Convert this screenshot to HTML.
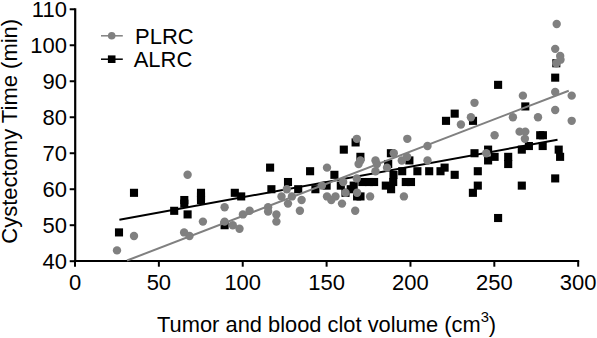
<!DOCTYPE html>
<html><head><meta charset="utf-8"><title>Cystectomy time vs tumor and blood clot volume</title>
<style>
html,body{margin:0;padding:0;background:#fff;}
body{width:597px;height:338px;overflow:hidden;}
svg{display:block;}
text{font-family:"Liberation Sans",Arial,Helvetica,sans-serif;fill:#000;}
</style></head><body>
<svg width="597" height="338" viewBox="0 0 597 338">
<rect width="597" height="338" fill="#fff"/>

<g stroke="#000" stroke-width="2" fill="none" stroke-linecap="butt">
<path d="M75.2 8.27V262.00" stroke-width="2.2"/>
<path d="M74.00 261.0H579.19"/>
<path d="M69.70 261.20H75.0"/>
<path d="M69.70 225.21H75.0"/>
<path d="M69.70 189.22H75.0"/>
<path d="M69.70 153.23H75.0"/>
<path d="M69.70 117.24H75.0"/>
<path d="M69.70 81.25H75.0"/>
<path d="M69.70 45.26H75.0"/>
<path d="M69.70 9.27H75.0"/>
<path d="M75.00 261.0V266.70"/>
<path d="M158.87 261.0V266.70"/>
<path d="M242.73 261.0V266.70"/>
<path d="M326.60 261.0V266.70"/>
<path d="M410.46 261.0V266.70"/>
<path d="M494.32 261.0V266.70"/>
<path d="M578.19 261.0V266.70"/>
</g>
<text transform="translate(66.9 268.6) scale(1 1.045)" text-anchor="end" font-size="22px">40</text>
<text transform="translate(66.9 232.61) scale(1 1.045)" text-anchor="end" font-size="22px">50</text>
<text transform="translate(66.9 196.62) scale(1 1.045)" text-anchor="end" font-size="22px">60</text>
<text transform="translate(66.9 160.63) scale(1 1.045)" text-anchor="end" font-size="22px">70</text>
<text transform="translate(66.9 124.64) scale(1 1.045)" text-anchor="end" font-size="22px">80</text>
<text transform="translate(66.9 88.65) scale(1 1.045)" text-anchor="end" font-size="22px">90</text>
<text transform="translate(66.9 52.66) scale(1 1.045)" text-anchor="end" font-size="22px">100</text>
<text transform="translate(66.9 16.67) scale(1 1.045)" text-anchor="end" font-size="22px">110</text>
<text transform="translate(75.0 289.8) scale(1 1.045)" text-anchor="middle" font-size="22px">0</text>
<text transform="translate(158.87 289.8) scale(1 1.045)" text-anchor="middle" font-size="22px">50</text>
<text transform="translate(242.73 289.8) scale(1 1.045)" text-anchor="middle" font-size="22px">100</text>
<text transform="translate(326.6 289.8) scale(1 1.045)" text-anchor="middle" font-size="22px">150</text>
<text transform="translate(410.46 289.8) scale(1 1.045)" text-anchor="middle" font-size="22px">200</text>
<text transform="translate(494.32 289.8) scale(1 1.045)" text-anchor="middle" font-size="22px">250</text>
<text transform="translate(578.19 289.8) scale(1 1.045)" text-anchor="middle" font-size="22px">300</text>
<text transform="translate(326.6 331.6) scale(1 1)" text-anchor="middle" font-size="21.87px">Tumor and blood clot volume (cm<tspan font-size="14.8px" dy="-9.2">3</tspan><tspan dy="9.2">)</tspan></text>
<text transform="translate(16.7 131.3) rotate(-90) scale(1 1)" text-anchor="middle" font-size="22px">Cystectomy Time (min)</text>
<text transform="translate(135 43.6) scale(1 1.045)" text-anchor="start" font-size="22px">PLRC</text>
<text transform="translate(133.7 66.8) scale(1 1.045)" text-anchor="start" font-size="22px">ALRC</text>
<g fill="#000">
<rect x="114.95" y="228.36" width="8.1" height="8.1"/>
<rect x="129.95" y="188.77" width="8.1" height="8.1"/>
<rect x="170.15" y="206.76" width="8.1" height="8.1"/>
<rect x="183.55" y="210.36" width="8.1" height="8.1"/>
<rect x="220.55" y="221.16" width="8.1" height="8.1"/>
<rect x="180.25" y="195.97" width="8.1" height="8.1"/>
<rect x="180.25" y="199.57" width="8.1" height="8.1"/>
<rect x="196.95" y="188.77" width="8.1" height="8.1"/>
<rect x="196.95" y="195.97" width="8.1" height="8.1"/>
<rect x="196.95" y="192.37" width="8.1" height="8.1"/>
<rect x="230.75" y="188.77" width="8.1" height="8.1"/>
<rect x="237.15" y="192.37" width="8.1" height="8.1"/>
<rect x="267.35" y="185.17" width="8.1" height="8.1"/>
<rect x="283.95" y="177.97" width="8.1" height="8.1"/>
<rect x="294.15" y="185.17" width="8.1" height="8.1"/>
<rect x="306.05" y="167.17" width="8.1" height="8.1"/>
<rect x="330.35" y="170.77" width="8.1" height="8.1"/>
<rect x="311.35" y="185.17" width="8.1" height="8.1"/>
<rect x="322.55" y="181.57" width="8.1" height="8.1"/>
<rect x="336.75" y="181.57" width="8.1" height="8.1"/>
<rect x="341.45" y="188.77" width="8.1" height="8.1"/>
<rect x="349.65" y="181.57" width="8.1" height="8.1"/>
<rect x="346.65" y="185.17" width="8.1" height="8.1"/>
<rect x="353.05" y="192.37" width="8.1" height="8.1"/>
<rect x="356.45" y="192.37" width="8.1" height="8.1"/>
<rect x="358.35" y="177.97" width="8.1" height="8.1"/>
<rect x="364.95" y="177.97" width="8.1" height="8.1"/>
<rect x="370.05" y="177.97" width="8.1" height="8.1"/>
<rect x="266.05" y="163.58" width="8.1" height="8.1"/>
<rect x="339.75" y="145.58" width="8.1" height="8.1"/>
<rect x="351.55" y="138.38" width="8.1" height="8.1"/>
<rect x="356.35" y="152.78" width="8.1" height="8.1"/>
<rect x="386.85" y="149.18" width="8.1" height="8.1"/>
<rect x="384.15" y="159.98" width="8.1" height="8.1"/>
<rect x="405.35" y="156.38" width="8.1" height="8.1"/>
<rect x="381.75" y="181.57" width="8.1" height="8.1"/>
<rect x="387.05" y="185.17" width="8.1" height="8.1"/>
<rect x="389.15" y="177.97" width="8.1" height="8.1"/>
<rect x="389.45" y="170.77" width="8.1" height="8.1"/>
<rect x="401.75" y="177.97" width="8.1" height="8.1"/>
<rect x="406.95" y="177.97" width="8.1" height="8.1"/>
<rect x="398.15" y="167.17" width="8.1" height="8.1"/>
<rect x="413.35" y="167.17" width="8.1" height="8.1"/>
<rect x="425.15" y="167.17" width="8.1" height="8.1"/>
<rect x="436.45" y="167.17" width="8.1" height="8.1"/>
<rect x="440.55" y="163.58" width="8.1" height="8.1"/>
<rect x="450.65" y="170.77" width="8.1" height="8.1"/>
<rect x="470.45" y="149.18" width="8.1" height="8.1"/>
<rect x="484.05" y="156.38" width="8.1" height="8.1"/>
<rect x="490.55" y="152.78" width="8.1" height="8.1"/>
<rect x="504.15" y="152.78" width="8.1" height="8.1"/>
<rect x="504.15" y="159.98" width="8.1" height="8.1"/>
<rect x="473.75" y="167.17" width="8.1" height="8.1"/>
<rect x="473.75" y="181.57" width="8.1" height="8.1"/>
<rect x="468.85" y="188.77" width="8.1" height="8.1"/>
<rect x="517.75" y="181.57" width="8.1" height="8.1"/>
<rect x="468.95" y="116.79" width="8.1" height="8.1"/>
<rect x="484.05" y="145.58" width="8.1" height="8.1"/>
<rect x="517.75" y="145.58" width="8.1" height="8.1"/>
<rect x="524.85" y="141.98" width="8.1" height="8.1"/>
<rect x="536.15" y="131.18" width="8.1" height="8.1"/>
<rect x="538.85" y="131.18" width="8.1" height="8.1"/>
<rect x="538.65" y="141.98" width="8.1" height="8.1"/>
<rect x="554.65" y="145.58" width="8.1" height="8.1"/>
<rect x="551.15" y="73.60" width="8.1" height="8.1"/>
<rect x="521.25" y="102.39" width="8.1" height="8.1"/>
<rect x="552.25" y="59.20" width="8.1" height="8.1"/>
<rect x="494.05" y="80.80" width="8.1" height="8.1"/>
<rect x="441.95" y="116.79" width="8.1" height="8.1"/>
<rect x="450.65" y="109.59" width="8.1" height="8.1"/>
<rect x="494.05" y="213.96" width="8.1" height="8.1"/>
<rect x="556.05" y="152.78" width="8.1" height="8.1"/>
<rect x="551.15" y="174.37" width="8.1" height="8.1"/>
</g>
<path d="M119.4 219.7L557.5 139.8" stroke="#000" stroke-width="2" fill="none"/>
<g fill="#808080">
<circle cx="117.00" cy="250.40" r="4.2"/>
<circle cx="134.00" cy="236.01" r="4.2"/>
<circle cx="184.10" cy="232.41" r="4.2"/>
<circle cx="189.50" cy="236.01" r="4.2"/>
<circle cx="187.60" cy="174.82" r="4.2"/>
<circle cx="202.90" cy="221.61" r="4.2"/>
<circle cx="224.60" cy="207.21" r="4.2"/>
<circle cx="224.60" cy="221.61" r="4.2"/>
<circle cx="232.80" cy="225.21" r="4.2"/>
<circle cx="239.50" cy="228.81" r="4.2"/>
<circle cx="242.90" cy="214.41" r="4.2"/>
<circle cx="249.60" cy="210.81" r="4.2"/>
<circle cx="268.10" cy="207.21" r="4.2"/>
<circle cx="268.10" cy="211.53" r="4.2"/>
<circle cx="276.40" cy="214.41" r="4.2"/>
<circle cx="276.40" cy="221.61" r="4.2"/>
<circle cx="281.50" cy="196.42" r="4.2"/>
<circle cx="286.80" cy="189.22" r="4.2"/>
<circle cx="288.00" cy="203.62" r="4.2"/>
<circle cx="291.90" cy="196.42" r="4.2"/>
<circle cx="299.90" cy="210.81" r="4.2"/>
<circle cx="301.60" cy="200.02" r="4.2"/>
<circle cx="321.90" cy="185.62" r="4.2"/>
<circle cx="327.00" cy="196.42" r="4.2"/>
<circle cx="331.30" cy="200.02" r="4.2"/>
<circle cx="335.50" cy="196.42" r="4.2"/>
<circle cx="342.00" cy="203.62" r="4.2"/>
<circle cx="343.20" cy="182.02" r="4.2"/>
<circle cx="345.50" cy="192.82" r="4.2"/>
<circle cx="327.00" cy="167.63" r="4.2"/>
<circle cx="360.40" cy="160.43" r="4.2"/>
<circle cx="358.60" cy="164.03" r="4.2"/>
<circle cx="356.80" cy="178.42" r="4.2"/>
<circle cx="357.10" cy="192.82" r="4.2"/>
<circle cx="370.10" cy="196.42" r="4.2"/>
<circle cx="355.20" cy="210.81" r="4.2"/>
<circle cx="356.80" cy="138.83" r="4.2"/>
<circle cx="407.30" cy="138.83" r="4.2"/>
<circle cx="375.50" cy="160.43" r="4.2"/>
<circle cx="376.90" cy="164.03" r="4.2"/>
<circle cx="375.50" cy="171.22" r="4.2"/>
<circle cx="387.00" cy="167.63" r="4.2"/>
<circle cx="393.80" cy="153.23" r="4.2"/>
<circle cx="401.80" cy="160.43" r="4.2"/>
<circle cx="407.10" cy="156.83" r="4.2"/>
<circle cx="403.90" cy="196.42" r="4.2"/>
<circle cx="427.50" cy="160.43" r="4.2"/>
<circle cx="427.50" cy="146.03" r="4.2"/>
<circle cx="460.90" cy="124.44" r="4.2"/>
<circle cx="470.90" cy="117.24" r="4.2"/>
<circle cx="474.50" cy="102.84" r="4.2"/>
<circle cx="486.30" cy="153.23" r="4.2"/>
<circle cx="494.60" cy="135.23" r="4.2"/>
<circle cx="512.90" cy="117.24" r="4.2"/>
<circle cx="519.60" cy="131.64" r="4.2"/>
<circle cx="525.30" cy="131.64" r="4.2"/>
<circle cx="524.90" cy="138.83" r="4.2"/>
<circle cx="522.90" cy="95.65" r="4.2"/>
<circle cx="538.00" cy="117.24" r="4.2"/>
<circle cx="571.70" cy="120.84" r="4.2"/>
<circle cx="555.20" cy="92.05" r="4.2"/>
<circle cx="571.70" cy="95.65" r="4.2"/>
<circle cx="555.20" cy="110.04" r="4.2"/>
<circle cx="555.20" cy="48.86" r="4.2"/>
<circle cx="560.20" cy="56.06" r="4.2"/>
<circle cx="560.50" cy="59.66" r="4.2"/>
<circle cx="556.30" cy="63.25" r="4.2"/>
<circle cx="556.70" cy="24.03" r="4.2"/>
</g>
<path d="M127 260.5L568.75 90.7" stroke="#808080" stroke-width="2" fill="none"/>
<path d="M101 35.8H122.8" stroke="#808080" stroke-width="1.5"/>
<circle cx="111.7" cy="35.8" r="3.8" fill="#808080"/>
<path d="M101 59.2H122.8" stroke="#000" stroke-width="1.5"/>
<rect x="107.9" y="55.4" width="7.6" height="7.6" fill="#000"/>
</svg></body></html>
